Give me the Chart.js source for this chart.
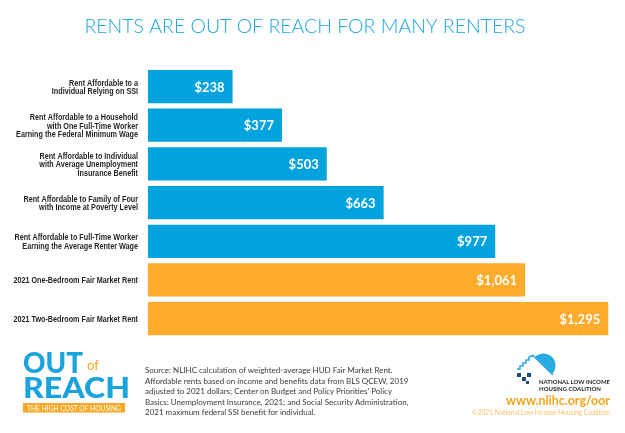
<!DOCTYPE html>
<html>
<head>
<meta charset="utf-8">
<script src="https://cdn.jsdelivr.net/npm/chart.js@4"></script>
<style>
  html,body{margin:0;padding:0;background:#fff;}
  #wrap{position:relative;width:625px;height:433px;overflow:hidden;}
  #c{position:absolute;left:0;top:0;}
  #deco{position:absolute;left:0;top:0;}
</style>
</head>
<body>
<div id="wrap">
<canvas id="c" width="625" height="433"></canvas>
<svg id="deco" width="625" height="433" xmlns="http://www.w3.org/2000/svg">
  <!-- OUT of REACH logo -->
  <text x="23" y="373" font-family="Lato" font-weight="900" font-size="28" fill="#1aa3dc" textLength="60" lengthAdjust="spacingAndGlyphs">OUT</text>
  <text x="87" y="370" font-family="Lato" font-weight="400" font-size="13" fill="#f7a823">of</text>
  <text x="23" y="398" font-family="Lato" font-weight="900" font-size="28" fill="#1aa3dc" textLength="107" lengthAdjust="spacingAndGlyphs">REACH</text>
  <rect x="23" y="403" width="102" height="9.5" fill="#f9a825"/>
  <text x="74" y="410.5" text-anchor="middle" font-family="Lato" font-size="6.8" fill="#ffffff" textLength="94" lengthAdjust="spacingAndGlyphs">THE HIGH COST OF HOUSING</text>
  <!-- Source -->
  <g font-family="Lato" font-size="8" fill="#3a3a3a">
    <text x="145" y="373">Source: NLIHC calculation of weighted-average HUD Fair Market Rent.</text>
    <text x="145" y="383.5">Affordable rents based on income and benefits data from BLS QCEW, 2019</text>
    <text x="145" y="394">adjusted to 2021 dollars; Center on Budget and Policy Priorities' Policy</text>
    <text x="145" y="404.5">Basics: Unemployment Insurance, 2021; and Social Security Administration,</text>
    <text x="145" y="415">2021 maximum federal SSI benefit for individual.</text>
  </g>
  <!-- NLIHC logo -->
  <path d="M535,357 A12,12 0 0 1 552,374 Z" fill="#29abe2"/>
  <path d="M517,369 L520,369 L520,366 L523,366 L523,363 L526,363 L526,360 L529,360 L529,357 L533,355.5 L553,375" fill="none" stroke="#29abe2" stroke-width="1.6"/>
  <rect x="517" y="373" width="4" height="4" fill="#1f4e79"/>
  <rect x="522" y="377" width="4" height="4" fill="#1f4e79"/>
  <rect x="527" y="373" width="4" height="4" fill="#1f4e79"/>
  <rect x="526" y="381" width="3" height="3" fill="#1f4e79"/>
  <text x="539" y="384" font-family="Lato" font-weight="700" font-size="6" fill="#231f20" textLength="71" lengthAdjust="spacingAndGlyphs">NATIONAL LOW INCOME</text>
  <text x="539" y="390.5" font-family="Lato" font-weight="700" font-size="6" fill="#231f20" textLength="62" lengthAdjust="spacingAndGlyphs">HOUSING COALITION</text>
  <text x="610" y="404.5" text-anchor="end" font-family="Lato" font-weight="700" font-size="13.5" fill="#f7a41d" textLength="104" lengthAdjust="spacingAndGlyphs">www.nlihc.org/oor</text>
  <text x="610" y="414.5" text-anchor="end" font-family="Lato" font-size="7.5" fill="#fbc26a" textLength="138" lengthAdjust="spacingAndGlyphs">©2021 National Low Income Housing Coalition</text>
</svg>
</div>
<script>
// ---- data ----
const categories = [
  ['Rent Affordable to a', 'Individual Relying on SSI'],
  ['Rent Affordable to a Household', 'with One Full-Time Worker', 'Earning the Federal Minimum Wage'],
  ['Rent Affordable to Individual', 'with Average Unemployment', 'Insurance Benefit'],
  ['Rent Affordable to Family of Four', 'with Income at Poverty Level'],
  ['Rent Affordable to Full-Time Worker', 'Earning the Average Renter Wage'],
  ['2021 One-Bedroom Fair Market Rent'],
  ['2021 Two-Bedroom Fair Market Rent']
];
const rentValues = [238, 377, 503, 663, 977, 1061, 1295];
const barGroups = ['affordable', 'affordable', 'affordable', 'affordable', 'affordable', 'fmr', 'fmr'];
const chartTitle = 'RENTS ARE OUT OF REACH FOR MANY RENTERS';

// ---- styles ----
const groupColors = { affordable: '#00a3de', fmr: '#fdab2a' };

// value labels at the end of each bar
const valueLabels = {
  id: 'valueLabels',
  afterDatasetsDraw(chart) {
    const ctx = chart.ctx;
    const meta = chart.getDatasetMeta(0);
    ctx.save();
    ctx.fillStyle = '#ffffff';
    ctx.font = 'bold 13px Lato, sans-serif';
    ctx.textAlign = 'right';
    ctx.textBaseline = 'middle';
    meta.data.forEach((bar, i) => {
      const v = chart.data.datasets[0].data[i];
      ctx.fillText('$' + v.toLocaleString('en-US'), bar.x - 8, bar.y + 1);
    });
    ctx.restore();
  }
};

// condensed category labels, positioned by the y scale
const narrowTicks = {
  id: 'narrowTicks',
  afterDraw(chart) {
    const ctx = chart.ctx;
    const ys = chart.scales.y;
    const lh = 8.7;
    ctx.save();
    ctx.fillStyle = '#231f20';
    ctx.font = "bold 8.7px 'Liberation Sans', Arial, sans-serif";
    ctx.textAlign = 'right';
    ctx.textBaseline = 'middle';
    chart.data.labels.forEach((lab, i) => {
      const lines = Array.isArray(lab) ? lab : [lab];
      const yc = ys.getPixelForTick(i) + 1;
      lines.forEach((ln, j) => {
        const y = yc + (j - (lines.length - 1) / 2) * lh;
        ctx.save();
        ctx.translate(ys.right - 10, y);
        ctx.scale(0.83, 1);
        ctx.fillText(ln, 0, 0);
        ctx.restore();
      });
    });
    ctx.restore();
  }
};

new Chart(document.getElementById('c'), {
  type: 'bar',
  data: {
    labels: categories,
    datasets: [{
      data: rentValues,
      backgroundColor: barGroups.map(g => groupColors[g]),
      borderWidth: 0,
      categoryPercentage: 1,
      barPercentage: 0.86
    }]
  },
  options: {
    indexAxis: 'y',
    responsive: false,
    animation: false,
    devicePixelRatio: 1,
    layout: { padding: { left: 0, right: 15, top: 0, bottom: 95 } },
    plugins: {
      legend: { display: false },
      tooltip: { enabled: false },
      title: {
        display: true,
        text: chartTitle,
        color: '#1ba6e0',
        font: { family: 'Lato, sans-serif', weight: '300', size: 19.5, lineHeight: 1.2 },
        padding: { top: 15, bottom: 28.8 }
      }
    },
    scales: {
      x: { display: false, min: 0, max: 1300 },
      y: {
        afterFit(scale) { scale.width = 148; },
        grid: { display: false, drawTicks: false },
        border: { display: false },
        ticks: { display: false, autoSkip: false }
      }
    }
  },
  plugins: [valueLabels, narrowTicks]
});
</script>
</body>
</html>
